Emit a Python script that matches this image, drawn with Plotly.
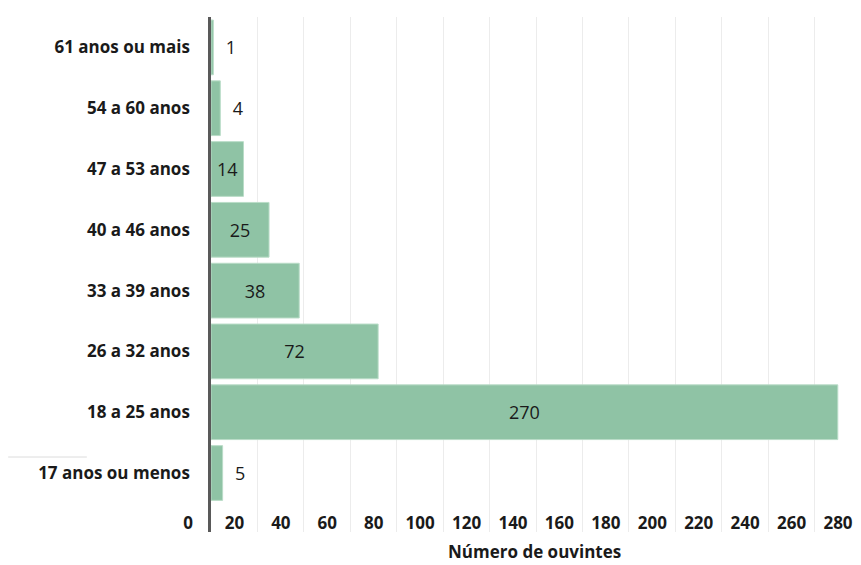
import plotly.graph_objects as go

categories = ["17 anos ou menos", "18 a 25 anos", "26 a 32 anos", "33 a 39 anos",
              "40 a 46 anos", "47 a 53 anos", "54 a 60 anos", "61 anos ou mais"]
values = [5, 270, 72, 38, 25, 14, 4, 1]
text_positions = ["outside", "inside", "inside", "inside", "inside", "inside", "outside", "outside"]
x_ticks = list(range(0, 281, 20))
x_title = "Número de ouvintes"

FONT = "Open Sans"
fig = go.Figure()
fig.add_trace(go.Bar(
    y=categories, x=values, orientation="h",
    marker=dict(color="#8fc3a5", line=dict(color="#b9dcc7", width=1)),
    text=[str(v) for v in values], textposition=text_positions,
    texttemplate=["  %{x}" if p == "outside" else "%{x}" for p in text_positions],
    insidetextanchor="middle", constraintext="none", cliponaxis=False,
    textfont=dict(family=FONT, size=18, color="#1a1a1a"),
    insidetextfont=dict(family=FONT, size=18, color="#1a1a1a"),
    outsidetextfont=dict(family=FONT, size=18, color="#1a1a1a"),
    hoverinfo="skip",
))

fig.update_layout(
    width=861, height=565, margin=dict(l=211, r=0, t=17, b=33),
    paper_bgcolor="white", plot_bgcolor="white", bargap=0.1, showlegend=False,
    font=dict(family=FONT, color="#1a1a1a"),
    xaxis=dict(
        range=[0, 280], tickvals=x_ticks, ticktext=[str(t) for t in x_ticks],
        showgrid=True, gridcolor="#ececec", gridwidth=1, zeroline=False,
        showline=False, ticks="", ticklabelposition="inside", ticklabeloverflow="allow",
        ticklabelshift=-23, ticklabelstandoff=-3,
        tickfont=dict(family=FONT, size=17, color="#1a1a1a", weight="bold"),
        automargin=False, fixedrange=True,
    ),
    yaxis=dict(
        categoryorder="array", categoryarray=categories, range=[-0.97, 7.5],
        showgrid=False, zeroline=False, showline=True, linecolor="#595959", linewidth=2.5,
        ticks="", ticklabelstandoff=15,
        tickfont=dict(family=FONT, size=17, color="#1a1a1a", weight="bold"),
        automargin=False, fixedrange=True,
    ),
    annotations=[dict(text="<b>" + x_title + "</b>", xref="paper", yref="paper",
                      x=0.498, y=-0.0388, xanchor="center", yanchor="middle",
                      borderpad=0, showarrow=False,
                      font=dict(family=FONT, size=17, color="#1a1a1a"))],
    shapes=[dict(type="line", xref="paper", yref="paper", x0=-0.312, x1=-0.191,
                 y0=0.1456, y1=0.1456, line=dict(color="#dcdcdc", width=1))],
)

fig.write_html("out.html")
